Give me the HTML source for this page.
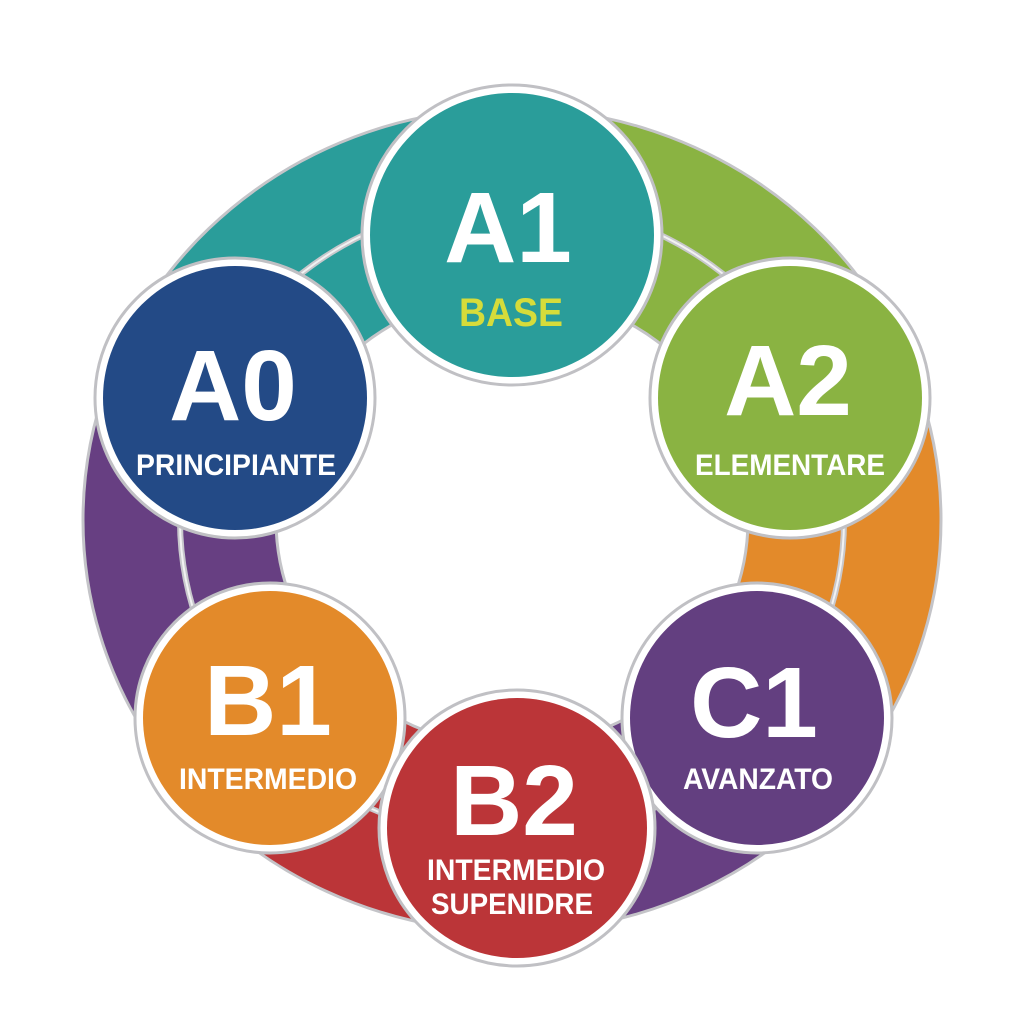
<!DOCTYPE html>
<html><head><meta charset="utf-8"><style>html,body{margin:0;padding:0;background:#fff}svg{display:block}</style></head>
<body>
<svg width="1024" height="1024" viewBox="0 0 1024 1024" xmlns="http://www.w3.org/2000/svg" font-family="Liberation Sans, Arial, sans-serif" font-weight="bold">
<rect width="1024" height="1024" fill="#fff"/>
<g transform="translate(0 520) scale(1 0.96) translate(0 -520)">
<g fill="none" stroke-width="193">
<circle cx="512" cy="520" r="332" stroke="#2a9d9a" stroke-dasharray="383 3000" transform="rotate(204 512 520)"/>
<circle cx="512" cy="520" r="332" stroke="#8ab342" stroke-dasharray="383 3000" transform="rotate(270 512 520)"/>
<circle cx="512" cy="520" r="332" stroke="#e38a2a" stroke-dasharray="366 3000" transform="rotate(336 512 520)"/>
<circle cx="512" cy="520" r="332" stroke="#673f82" stroke-dasharray="290 3000" transform="rotate(39 512 520)"/>
<circle cx="512" cy="520" r="332" stroke="#bb3538" stroke-dasharray="302 3000" transform="rotate(89 512 520)"/>
<circle cx="512" cy="520" r="332" stroke="#673f82" stroke-dasharray="366 3000" transform="rotate(141 512 520)"/>
</g>
<circle cx="512" cy="520" r="429" fill="none" stroke="#c4c4c8" stroke-width="3"/>
<circle cx="512" cy="520" r="236" fill="none" stroke="#c4c4c8" stroke-width="3"/>
<circle cx="512" cy="520" r="332" fill="none" stroke="#c8c8cc" stroke-width="6"/>
<circle cx="512" cy="520" r="332" fill="none" stroke="#f2f2f2" stroke-width="2"/>
</g>
<g stroke="#c0c0c4" stroke-width="3">
<circle cx="512" cy="235" r="150" fill="#fff"/><circle cx="512" cy="235" r="142" fill="#2a9d9a" stroke="none"/>
<circle cx="235" cy="398" r="140" fill="#fff"/><circle cx="235" cy="398" r="132" fill="#234a86" stroke="none"/>
<circle cx="790" cy="398" r="140" fill="#fff"/><circle cx="790" cy="398" r="132" fill="#8ab342" stroke="none"/>
<circle cx="270" cy="718" r="135" fill="#fff"/><circle cx="270" cy="718" r="127" fill="#e38a2a" stroke="none"/>
<circle cx="757" cy="718" r="135" fill="#fff"/><circle cx="757" cy="718" r="127" fill="#633f80" stroke="none"/>
<circle cx="517" cy="828" r="138" fill="#fff"/><circle cx="517" cy="828" r="130" fill="#bb3538" stroke="none"/>
</g>
<g fill="#fff" text-anchor="middle">
<text x="508" y="262" font-size="100">A1</text>
<text x="511" y="326" font-size="40" fill="#d6dc3a" textLength="104" lengthAdjust="spacingAndGlyphs">BASE</text>
<text x="233" y="420" font-size="100">A0</text>
<text x="236" y="475" font-size="30" textLength="200" lengthAdjust="spacingAndGlyphs">PRINCIPIANTE</text>
<text x="788" y="415" font-size="100">A2</text>
<text x="790" y="475" font-size="30" textLength="190" lengthAdjust="spacingAndGlyphs">ELEMENTARE</text>
<text x="268" y="735" font-size="100">B1</text>
<text x="268" y="789" font-size="30" textLength="178" lengthAdjust="spacingAndGlyphs">INTERMEDIO</text>
<text x="754" y="737" font-size="100">C1</text>
<text x="758" y="789" font-size="30" textLength="150" lengthAdjust="spacingAndGlyphs">AVANZATO</text>
<text x="514" y="835" font-size="100">B2</text>
<text x="516" y="880" font-size="30" textLength="178" lengthAdjust="spacingAndGlyphs">INTERMEDIO</text>
<text x="512" y="914" font-size="30" textLength="162" lengthAdjust="spacingAndGlyphs">SUPENIDRE</text>
</g>
</svg>
</body></html>
